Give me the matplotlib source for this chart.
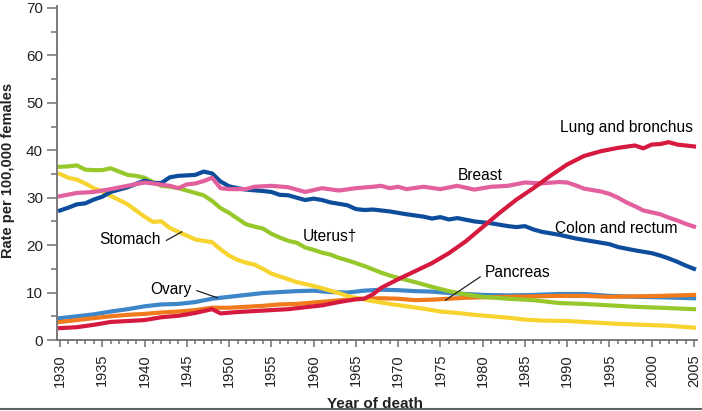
import matplotlib
matplotlib.use('Agg')
import matplotlib.pyplot as plt
from matplotlib.ticker import MultipleLocator
from matplotlib.lines import Line2D

plt.rcParams['font.family'] = ['Liberation Sans', 'DejaVu Sans']

# female cancer death rates per 100,000
lung_years = [1930, 1932, 1934, 1936, 1938, 1940, 1942, 1944, 1946, 1948, 1949, 1951, 1953, 1955,
              1957, 1959, 1961, 1963, 1965, 1966, 1967, 1968, 1970, 1972, 1974, 1976, 1978, 1980,
              1982, 1984, 1986, 1988, 1990, 1992, 1994, 1996, 1998, 1999, 2000, 2001, 2002, 2003,
              2004, 2005]
lung = [2.5, 2.7, 3.2, 3.8, 4.0, 4.2, 4.8, 5.1, 5.7, 6.5, 5.6, 5.9, 6.1, 6.3,
        6.5, 6.9, 7.3, 8.0, 8.6, 8.7, 9.6, 11.0, 12.8, 14.5, 16.2, 18.3, 20.8, 23.8,
        26.8, 29.6, 32.0, 34.6, 37.0, 38.8, 39.8, 40.5, 41.0, 40.4, 41.2, 41.3, 41.7, 41.2,
        41.0, 40.8]

breast_years = [1930, 1932, 1934, 1936, 1938, 1940, 1941, 1943, 1944, 1945, 1946, 1947, 1948, 1949,
                1950, 1952, 1953, 1955, 1957, 1959, 1961, 1963, 1965, 1967, 1968, 1969, 1970, 1971,
                1973, 1975, 1977, 1979, 1981, 1983, 1985, 1987, 1989, 1990, 1991, 1992, 1994, 1995,
                1996, 1997, 1998, 1999, 2000, 2001, 2002, 2003, 2004, 2005]
breast = [30.3, 31.0, 31.2, 31.8, 32.5, 33.2, 33.0, 32.5, 32.0, 32.8, 33.0, 33.5, 34.2, 32.0,
          31.8, 31.8, 32.3, 32.5, 32.2, 31.2, 32.0, 31.5, 32.0, 32.3, 32.5, 32.0, 32.3, 31.8,
          32.3, 31.8, 32.5, 31.7, 32.3, 32.5, 33.2, 33.0, 33.3, 33.2, 32.6, 31.9, 31.3, 30.8,
          30.0, 29.0, 28.2, 27.3, 26.9, 26.5, 25.8, 25.2, 24.5, 23.9]

colon_years = [1930, 1931, 1932, 1933, 1934, 1935, 1936, 1937, 1938, 1939, 1940, 1941, 1942, 1943,
               1944, 1945, 1946, 1947, 1948, 1949, 1950, 1951, 1952, 1954, 1955, 1956, 1957, 1958,
               1959, 1960, 1961, 1962, 1964, 1965, 1966, 1967, 1969, 1971, 1973, 1974, 1975, 1976,
               1977, 1979, 1981, 1983, 1984, 1985, 1986, 1987, 1989, 1991, 1993, 1995, 1996, 1998,
               2000, 2001, 2002, 2003, 2004, 2005]
colon = [27.3, 27.9, 28.6, 28.8, 29.6, 30.2, 31.2, 31.7, 32.2, 32.9, 33.6, 33.1, 33.1, 34.3,
         34.6, 34.7, 34.8, 35.5, 35.1, 33.4, 32.4, 32.0, 31.7, 31.4, 31.2, 30.6, 30.5, 30.0,
         29.5, 29.8, 29.5, 29.0, 28.4, 27.6, 27.4, 27.5, 27.1, 26.5, 26.0, 25.6, 25.9, 25.4,
         25.7, 25.0, 24.6, 24.0, 23.8, 24.0, 23.3, 22.8, 22.2, 21.4, 20.8, 20.2, 19.6, 18.9,
         18.3, 17.8, 17.2, 16.5, 15.7, 15.0]

uterus_years = [1930, 1931, 1932, 1933, 1934, 1935, 1936, 1937, 1938, 1939, 1940, 1941, 1942, 1943,
                1944, 1945, 1946, 1947, 1948, 1949, 1950, 1951, 1952, 1953, 1954, 1955, 1956, 1957,
                1958, 1959, 1960, 1961, 1962, 1963, 1964, 1965, 1966, 1967, 1968, 1969, 1970, 1972,
                1974, 1976, 1978, 1980, 1983, 1986, 1989, 1992, 1995, 1998, 2001, 2005]
uterus = [36.5, 36.6, 36.8, 35.9, 35.8, 35.8, 36.2, 35.5, 34.8, 34.6, 34.2, 33.3, 32.5, 32.3,
          32.0, 31.5, 31.0, 30.5, 29.3, 27.8, 26.8, 25.6, 24.4, 23.9, 23.5, 22.4, 21.6, 20.9,
          20.5, 19.5, 19.0, 18.4, 18.0, 17.3, 16.8, 16.2, 15.6, 14.9, 14.2, 13.6, 13.1, 12.2,
          11.2, 10.3, 9.6, 9.1, 8.7, 8.4, 7.8, 7.6, 7.3, 7.0, 6.8, 6.5]

stomach_years = [1930, 1931, 1932, 1933, 1934, 1935, 1936, 1937, 1938, 1939, 1940, 1941, 1942, 1943,
                 1944, 1945, 1946, 1947, 1948, 1949, 1950, 1951, 1952, 1953, 1954, 1955, 1956, 1957,
                 1958, 1959, 1960, 1961, 1962, 1963, 1964, 1965, 1967, 1969, 1971, 1973, 1975, 1977,
                 1979, 1981, 1983, 1985, 1987, 1990, 1993, 1996, 1999, 2002, 2005]
stomach = [35.0, 34.2, 33.8, 33.0, 32.0, 31.3, 30.4, 29.5, 28.6, 27.3, 26.0, 24.9, 25.0, 23.6,
           22.8, 22.0, 21.2, 20.9, 20.6, 19.1, 17.8, 16.9, 16.3, 15.9, 15.0, 14.0, 13.4, 12.8,
           12.2, 11.8, 11.4, 10.9, 10.4, 9.9, 9.3, 8.9, 8.2, 7.6, 7.1, 6.6, 6.0, 5.7,
           5.3, 5.0, 4.7, 4.3, 4.1, 4.0, 3.7, 3.4, 3.2, 3.0, 2.6]

ovary_years = [1930, 1932, 1934, 1936, 1938, 1940, 1942, 1944, 1946, 1948, 1950, 1952, 1954, 1956,
               1958, 1960, 1962, 1964, 1966, 1968, 1970, 1972, 1974, 1976, 1978, 1980, 1983, 1986,
               1989, 1992, 1995, 1998, 2001, 2005]
ovary = [4.6, 5.0, 5.4, 6.0, 6.5, 7.1, 7.5, 7.6, 8.0, 8.7, 9.1, 9.5, 9.9, 10.1,
         10.3, 10.4, 10.1, 10.0, 10.4, 10.6, 10.5, 10.3, 10.2, 9.9, 9.7, 9.5, 9.4, 9.5,
         9.7, 9.7, 9.3, 9.1, 9.0, 8.8]

pancreas_years = [1930, 1932, 1934, 1936, 1938, 1940, 1942, 1944, 1946, 1948, 1950, 1952, 1954, 1956,
                  1958, 1960, 1962, 1964, 1966, 1968, 1970, 1972, 1974, 1976, 1978, 1980, 1983, 1986,
                  1989, 1992, 1995, 1998, 2001, 2005]
pancreas = [3.8, 4.2, 4.6, 5.0, 5.3, 5.5, 5.8, 6.0, 6.3, 6.8, 6.8, 7.0, 7.2, 7.5,
            7.6, 7.9, 8.2, 8.5, 8.7, 8.8, 8.7, 8.4, 8.5, 8.7, 8.9, 9.0, 9.1, 9.2,
            9.3, 9.3, 9.1, 9.2, 9.3, 9.5]

W, H = 702, 411
fig = plt.figure(figsize=(W / 100, H / 100), dpi=100)
ax = fig.add_axes([57 / W, (H - 340) / H, (697 - 57) / W, (340 - 6) / H])

lw = 3.0
ax.plot(ovary_years, ovary, color='#3d86c9', lw=lw)
ax.plot(pancreas_years, pancreas, color='#f07a1c', lw=lw)
ax.plot(stomach_years, stomach, color='#f6d32e', lw=lw)
ax.plot(uterus_years, uterus, color='#97c82b', lw=lw)
ax.plot(colon_years, colon, color='#0d4d9c', lw=lw)
ax.plot(breast_years, breast, color='#e2609e', lw=lw)
ax.plot(lung_years, lung, color='#d61a3f', lw=lw)

ax.set_xlim(1929.65, 2005.35)
ax.set_ylim(0, 70.4)
ax.xaxis.set_major_locator(MultipleLocator(5))
ax.xaxis.set_minor_locator(MultipleLocator(1))
ax.yaxis.set_major_locator(MultipleLocator(10))
ax.yaxis.set_minor_locator(MultipleLocator(5))
for s in ['top', 'right']:
    ax.spines[s].set_visible(False)
for s in ['left', 'bottom']:
    ax.spines[s].set_color('#707070')
    ax.spines[s].set_linewidth(1.3)
ax.tick_params(which='both', color='#707070', width=1.1, labelcolor='#222222')
ax.tick_params(axis='y', which='major', length=7, pad=3, labelsize=11)
ax.tick_params(axis='y', which='minor', length=4)
ax.tick_params(axis='x', which='major', length=5, pad=5, labelrotation=90, labelsize=10.5)
ax.tick_params(axis='x', which='minor', length=3)

fs = 11.2
ax.text(1989.2, 44.7, 'Lung and bronchus', fontsize=fs, va='center')
ax.text(1977.0, 34.6, 'Breast', fontsize=fs, va='center')
ax.text(1988.5, 23.6, 'Colon and rectum', fontsize=fs, va='center')
ax.text(1958.7, 21.9, 'Uterus\u2020', fontsize=fs, va='center')
ax.text(1934.7, 21.1, 'Stomach', fontsize=fs, va='center')
ax.text(1940.7, 10.6, 'Ovary', fontsize=fs, va='center')
ax.text(1980.3, 14.3, 'Pancreas', fontsize=fs, va='center')

# leader lines
ax.plot([1942.6, 1944.4], [21.0, 22.8], color='#222222', lw=0.9)
ax.plot([1946.2, 1948.6], [10.4, 8.9], color='#222222', lw=0.9)
ax.plot([1979.7, 1975.6], [13.3, 8.4], color='#222222', lw=0.9)

fig.text(8 / W, (H - 170) / H, 'Rate per 100,000 females', rotation=90, fontsize=10.5,
         fontweight='bold', ha='center', va='center', color='#222222')
fig.text(375 / W, (H - 404) / H, 'Year of death', fontsize=11, fontweight='bold',
         ha='center', va='center', color='#222222')
fig.add_artist(Line2D([0, 1], [(H - 409) / H] * 2, color='#606060', lw=1.5,
                      transform=fig.transFigure))

fig.savefig('out.png', dpi=100)
